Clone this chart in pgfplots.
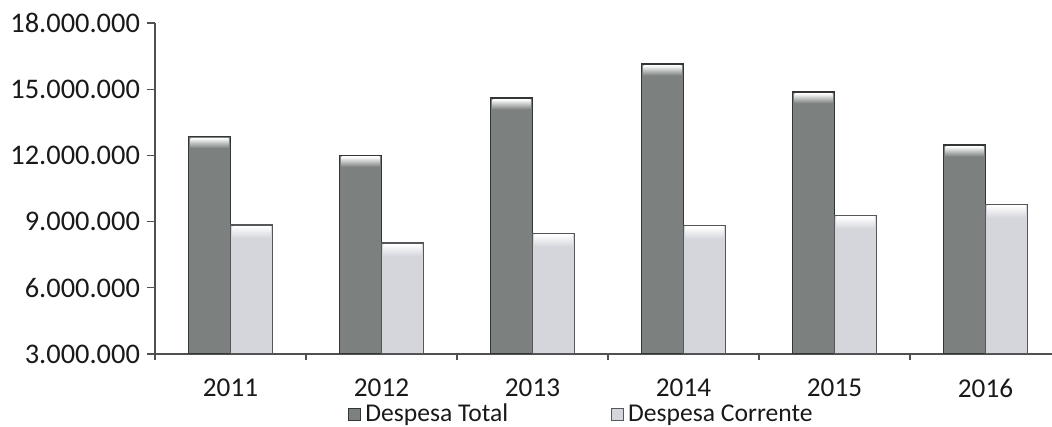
\documentclass[border=0pt]{standalone}
\usepackage{fontspec}
\setmainfont{Carlito}
\usepackage{pgfplots}
\pgfplotsset{compat=1.18}

\definecolor{totalfill}{RGB}{124,129,127}
\definecolor{totaledge}{RGB}{50,55,53}
\definecolor{corrfill}{RGB}{213,214,220}
\definecolor{corredge}{RGB}{85,88,90}
\definecolor{axisgray}{RGB}{80,80,80}
\definecolor{txt}{RGB}{25,25,25}

\begin{document}
\begin{tikzpicture}
\begin{axis}[
  at={(0,0)}, anchor=south west,
  scale only axis, width=453pt, height=165.5pt,
  xmin=-0.5, xmax=5.5,
  ymin=3000000, ymax=18000000,
  ybar=0pt, bar width=21pt,
  axis lines*=left,
  axis line style={axisgray, line width=0.6pt},
  tick align=outside,
  xtick={0,...,5},
  xticklabels={2011,2012,2013,2014,2015,2016},
  major x tick style={draw=none},
  minor xtick={-0.5,0.5,1.5,2.5,3.5,4.5},
  minor x tick style={axisgray, line width=0.6pt},
  minor tick length=3pt,
  ytick={3000000,6000000,9000000,12000000,15000000,18000000},
  major tick length=4pt,
  y tick style={axisgray, line width=0.6pt},
  scaled y ticks=false,
  tick label style={text=txt},
  yticklabel style={font=\fontsize{14.2}{17}\selectfont,
    /pgf/number format/.cd, fixed, 1000 sep={.}, assume math mode=true},
  xticklabel style={font=\fontsize{13.6}{16}\selectfont, yshift=-5pt},
  legend style={at={(0.213,-0.183)}, anchor=west, draw=none, fill=none,
    inner sep=0pt, font=\fontsize{12.8}{15}\selectfont, text=txt,
    /tikz/every even column/.append style={column sep=49.5pt}},
  legend columns=2,
  nodes near coords={},
  every node near coord/.append style={anchor=north, inner sep=0pt, outer sep=0pt},
]
% Despesa Total
\addplot[draw=totaledge, line width=0.7pt, fill=totalfill,
  every node near coord/.append style={minimum width=19pt, minimum height=5pt,
    top color=white, bottom color=totalfill, yshift=-0.7pt},
  legend image code/.code={\draw[totaledge, line width=0.5pt, fill=totalfill] (0pt,-3pt) rectangle (6pt,3pt);}]
  coordinates {(0,12850000) (1,12000000) (2,14600000) (3,16140000) (4,14880000) (5,12470000)};
% Despesa Corrente
\addplot[draw=corredge, line width=0.6pt, fill=corrfill,
  every node near coord/.append style={minimum width=19pt, minimum height=6pt,
    top color=white, bottom color=corrfill, yshift=-0.6pt},
  legend image code/.code={\draw[corredge, line width=0.5pt, fill=corrfill] (0pt,-3pt) rectangle (6pt,3pt);}]
  coordinates {(0,8850000) (1,8030000) (2,8470000) (3,8810000) (4,9270000) (5,9780000)};
\legend{Despesa Total, Despesa Corrente}
\end{axis}
\pgfresetboundingbox
\path[use as bounding box] (-77.5pt,-36.5pt) rectangle (448.5pt,177pt);
\end{tikzpicture}
\end{document}
